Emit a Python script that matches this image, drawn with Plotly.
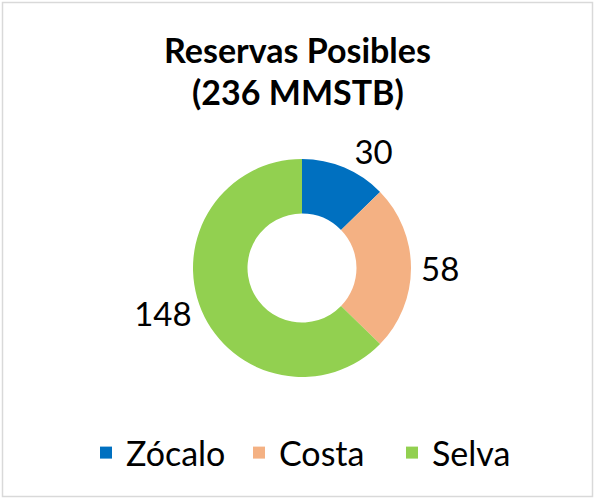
import plotly.graph_objects as go

categories = ["Zócalo", "Costa", "Selva"]
values = [30, 58, 148]
colors = ["#0070C0", "#F4B183", "#92D050"]
title_lines = ["Reservas Posibles", "(236 MMSTB)"]

W, H = 595, 499
FONT = "Lato"

fig = go.Figure(go.Pie(
    labels=categories,
    values=values,
    marker=dict(colors=colors, line=dict(width=0)),
    hole=0.5,
    sort=False,
    direction="clockwise",
    rotation=0,
    textinfo="value",
    textposition="outside",
    outsidetextfont=dict(family=FONT, size=33, color="#000000"),
    domain=dict(x=[193 / W, 411 / W], y=[1 - 377 / H, 1 - 159 / H]),
    showlegend=True,
    hoverinfo="label+value",
))

fig.update_layout(
    width=W, height=H,
    margin=dict(l=0, r=0, t=0, b=0),
    paper_bgcolor="white",
    plot_bgcolor="white",
    title=dict(
        text="<b>" + title_lines[0] + "</b>",
        x=0.5, xanchor="center",
        y=1 - 51 / H, yanchor="middle", yref="container",
        font=dict(family=FONT, size=34, color="#000000"),
    ),
    annotations=[dict(
        text="<b>" + title_lines[1] + "</b>",
        xref="paper", yref="paper",
        x=0.5, xanchor="center",
        y=1 - 92 / H, yanchor="middle",
        showarrow=False,
        font=dict(family=FONT, size=34, color="#000000"),
    )],
    legend=dict(
        orientation="h",
        x=86 / W, xanchor="left",
        y=1 - 453 / H, yanchor="middle",
        font=dict(family=FONT, size=34, color="#000000"),
        itemwidth=30,
        entrywidth=108, entrywidthmode="pixels",
        traceorder="normal",
    ),
    shapes=[dict(
        type="rect", xref="paper", yref="paper",
        x0=2.5 / W, x1=592.5 / W, y0=1 - 496.5 / H, y1=1 - 2.5 / H,
        line=dict(color="#D9D9D9", width=1.5),
        fillcolor="rgba(0,0,0,0)",
    )],
)

fig.write_html(
    "out.html",
    config={"displayModeBar": False},
    post_script="document.body.style.margin='0';document.body.style.overflow='hidden';",
)
